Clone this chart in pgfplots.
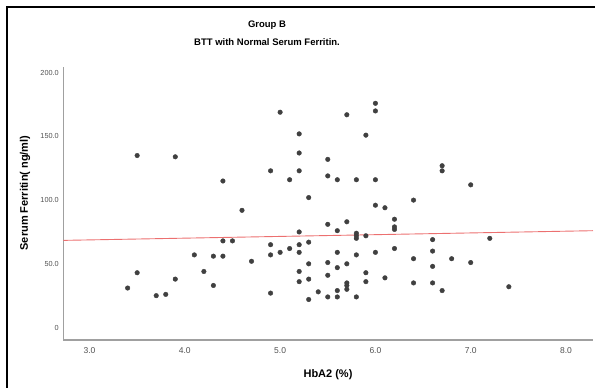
\documentclass[border=0pt]{standalone}
\usepackage{pgfplots}
\pgfplotsset{compat=1.18}
\usepackage{fontspec}
\setmainfont{Liberation Sans}
\definecolor{dotc}{RGB}{64,64,64}
\definecolor{fitc}{RGB}{236,112,112}
\definecolor{axc}{RGB}{160,160,160}
\definecolor{tickc}{RGB}{80,80,80}
\begin{document}
\begin{tikzpicture}[x=1pt,y=1pt]
\useasboundingbox (0,0) rectangle (595,388);
\draw[line width=2pt,black] (7,0) -- (7,381) -- (595,381);
\begin{axis}[
  at={(63.3pt,48pt)}, anchor=south west,
  scale only axis, width=529.7pt, height=273pt,
  xmin=2.725, xmax=8.283, ymin=-9.8, ymax=204.5,
  axis x line=bottom, axis y line=left,
  axis line style={-, axc, line width=1.4pt},
  xtick={3,4,5,6,7,8}, xticklabels={3.0,4.0,5.0,6.0,7.0,8.0},
  ytick={0,50,100,150,200}, yticklabels={0,50.0,100.0,150.0,200.0},
  major tick length=0pt,
  /pgf/number format/assume math mode=true,
  ticklabel style={text=tickc},
  xticklabel style={font=\fontsize{8.5}{9}\selectfont, yshift=-4pt},
  yticklabel style={font=\fontsize{7.3}{8}\selectfont, xshift=-1pt},
  clip=false,
]
\addplot[only marks, mark=*, mark size=2.3pt, mark options={fill=dotc, draw=dotc}] coordinates {
(3.4,31) (3.5,135) (3.5,43) (3.7,25) (3.8,26) (3.9,134) (3.9,38)
(4.1,57) (4.2,44) (4.3,56) (4.3,33) (4.4,115) (4.4,68) (4.4,56)
(4.5,68) (4.6,92) (4.7,52) (4.9,123) (4.9,65) (4.9,57) (4.9,27)
(5.0,169) (5.0,59) (5.1,116) (5.1,62)
(5.2,152) (5.2,137) (5.2,123) (5.2,75) (5.2,65) (5.2,59) (5.2,44) (5.2,36)
(5.3,102) (5.3,67) (5.3,50) (5.3,38) (5.3,22) (5.4,28)
(5.5,132) (5.5,119) (5.5,81) (5.5,51) (5.5,41) (5.5,24)
(5.6,116) (5.6,76) (5.6,59) (5.6,47) (5.6,29) (5.6,24)
(5.7,167) (5.7,83) (5.7,50) (5.7,35) (5.7,33) (5.7,30)
(5.8,116) (5.8,74) (5.8,72) (5.8,70) (5.8,57) (5.8,24)
(5.9,151) (5.9,72) (5.9,43) (5.9,36)
(6.0,176) (6.0,170) (6.0,116) (6.0,96) (6.0,59)
(6.1,94) (6.1,39) (6.2,85) (6.2,79) (6.2,77) (6.2,62)
(6.4,100) (6.4,54) (6.4,35)
(6.6,69) (6.6,60) (6.6,48) (6.6,35)
(6.7,127) (6.7,123) (6.7,29) (6.8,54)
(7.0,112) (7.0,51) (7.2,70) (7.4,32)
};
\addplot[fitc, line width=0.9pt] coordinates {(2.725,68.4) (8.283,76.0)};
\end{axis}
\node[font=\fontsize{9.5}{11}\selectfont\bfseries] at (267,363.3) {Group B};
\node[font=\fontsize{9.5}{11}\selectfont\bfseries] at (267,346) {BTT with Normal Serum Ferritin.};
\node[font=\fontsize{11}{13}\selectfont\bfseries] at (328,13) {HbA2 (\%)};
\node[font=\fontsize{11}{13}\selectfont\bfseries, rotate=90] at (25,195) {Serum Ferritin( ng/ml)};
\end{tikzpicture}
\end{document}
